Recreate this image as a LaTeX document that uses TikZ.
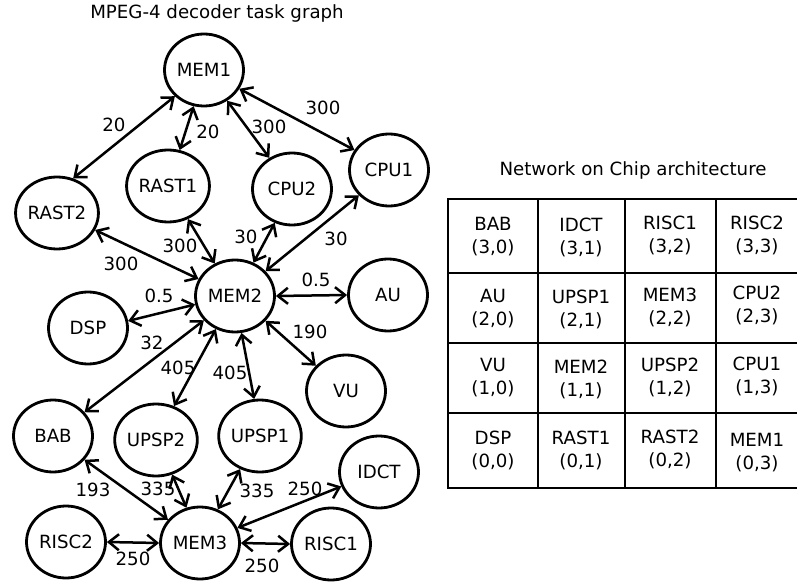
\documentclass[tikz,border=0pt]{standalone}
\usepackage{fontspec}
\setmainfont{DejaVu Sans}
\usetikzlibrary{arrows.meta,shapes.geometric}

\tikzset{
  task/.style={draw, ellipse, line width=2.8pt, minimum width=79pt, minimum height=72pt,
    inner sep=0pt, font=\fontsize{18.2}{22}\selectfont},
  link/.style={line width=2.5pt, {Straight Barb[length=10pt,width=16pt]}-{Straight Barb[length=10pt,width=16pt]}},
  weight/.style={font=\fontsize{18.2}{22}\selectfont, inner sep=0pt},
  heading/.style={font=\fontsize{18.2}{22}\selectfont, inner sep=0pt},
  grid/.style={line width=2.8pt},
  cell/.style={align=center, inner sep=0pt, font=\fontsize{18.2}{23}\selectfont}
}

\begin{document}
\begin{tikzpicture}[x=1pt, y=-1pt]
\useasboundingbox (0,0) rectangle (797,585);

% ---------- task graph ----------
\node[heading] (title1) at (217,13) {MPEG-4 decoder task graph};

\node[task] (mem1)  at (204,70)  {MEM1};
\node[task] (rast2) at (57,213)  {RAST2};
\node[task] (rast1) at (168,186) {RAST1};
\node[task] (cpu2)  at (292,189) {CPU2};
\node[task] (cpu1)  at (389,170) {CPU1};
\node[task] (mem2)  at (235,296) {MEM2};
\node[task] (au)    at (388,295) {AU};
\node[task] (dsp)   at (88,328)  {DSP};
\node[task] (vu)    at (346,391) {VU};
\node[task] (bab)   at (53,436)  {BAB};
\node[task] (upsp2) at (156,440) {UPSP2};
\node[task] (upsp1) at (260,436) {UPSP1};
\node[task] (idct)  at (379,472) {IDCT};
\node[task] (risc2) at (66,542)  {RISC2};
\node[task] (mem3)  at (200,543) {MEM3};
\node[task] (risc1) at (331,544) {RISC1};

% links around MEM1
\draw[link] (mem1.222) -- (rast2.65);
\draw[link] (mem1.254) -- (rast1.72);
\draw[link] (mem1.307) -- (cpu2.126);
\draw[link] (mem1.332) -- (cpu1.150);
% links around MEM2
\draw[link] (rast2.336) -- (mem2.155);
\draw[link] (rast1.301) -- (mem2.122);
\draw[link] (cpu2.243) -- (mem2.61);
\draw[link] (cpu1.220) -- (mem2.39);
\draw[link] (mem2.0) -- (au.180);
\draw[link] (dsp.10) -- (mem2.192);
\draw[link] (mem2.218) -- (bab.37);
\draw[link] (mem2.240) -- (upsp2.62);
\draw[link] (mem2.280) -- (upsp1.99);
\draw[link] (mem2.321) -- (vu.140);
% links around MEM3
\draw[link] (bab.323) -- (mem3.144);
\draw[link] (upsp2.295) -- (mem3.111);
\draw[link] (upsp1.239) -- (mem3.62);
\draw[link] (mem3.22) -- (idct.201);
\draw[link] (risc2.0) -- (mem3.180);
\draw[link] (mem3.0) -- (risc1.180);

% link weights
\node[weight] (w1)  at (114,125) {20};
\node[weight] (w2)  at (208,132) {20};
\node[weight] (w3)  at (269,127) {300};
\node[weight] (w4)  at (323,108) {300};
\node[weight] (w5)  at (121,264) {300};
\node[weight] (w6)  at (180,246) {300};
\node[weight] (w7)  at (246,237) {30};
\node[weight] (w8)  at (336,239) {30};
\node[weight] (w9)  at (316,280) {0.5};
\node[weight] (w10) at (159,296) {0.5};
\node[weight] (w11) at (152,343) {32};
\node[weight] (w12) at (310,332) {190};
\node[weight] (w13) at (178,368) {405};
\node[weight] (w14) at (230,373) {405};
\node[weight] (w15) at (93,490)  {193};
\node[weight] (w16) at (158,489) {335};
\node[weight] (w17) at (257,491) {335};
\node[weight] (w18) at (305,489) {250};
\node[weight] (w19) at (133,559) {250};
\node[weight] (w20) at (262,566) {250};

% ---------- network on chip ----------
\node[heading] (title2) at (633,170) {Network on Chip architecture};

\draw[grid] (448,199) rectangle (806,488);
\foreach \gx in {538,625,716} \draw[grid] (\gx,199) -- (\gx,488);
\foreach \gy in {273,343,413} \draw[grid] (448,\gy) -- (806,\gy);

\node[cell] (c30) at (493,237) {BAB\\(3,0)};
\node[cell] (c31) at (581,237) {IDCT\\(3,1)};
\node[cell] (c32) at (670,235) {RISC1\\(3,2)};
\node[cell] (c33) at (757,235) {RISC2\\(3,3)};
\node[cell] (c20) at (493,309) {AU\\(2,0)};
\node[cell] (c21) at (581,309) {UPSP1\\(2,1)};
\node[cell] (c22) at (670,307) {MEM3\\(2,2)};
\node[cell] (c23) at (757,305) {CPU2\\(2,3)};
\node[cell] (c10) at (493,378) {VU\\(1,0)};
\node[cell] (c11) at (581,379) {MEM2\\(1,1)};
\node[cell] (c12) at (670,377) {UPSP2\\(1,2)};
\node[cell] (c13) at (757,376) {CPU1\\(1,3)};
\node[cell] (c00) at (493,450) {DSP\\(0,0)};
\node[cell] (c01) at (581,450) {RAST1\\(0,1)};
\node[cell] (c02) at (670,449) {RAST2\\(0,2)};
\node[cell] (c03) at (757,453) {MEM1\\(0,3)};
\end{tikzpicture}
\end{document}
